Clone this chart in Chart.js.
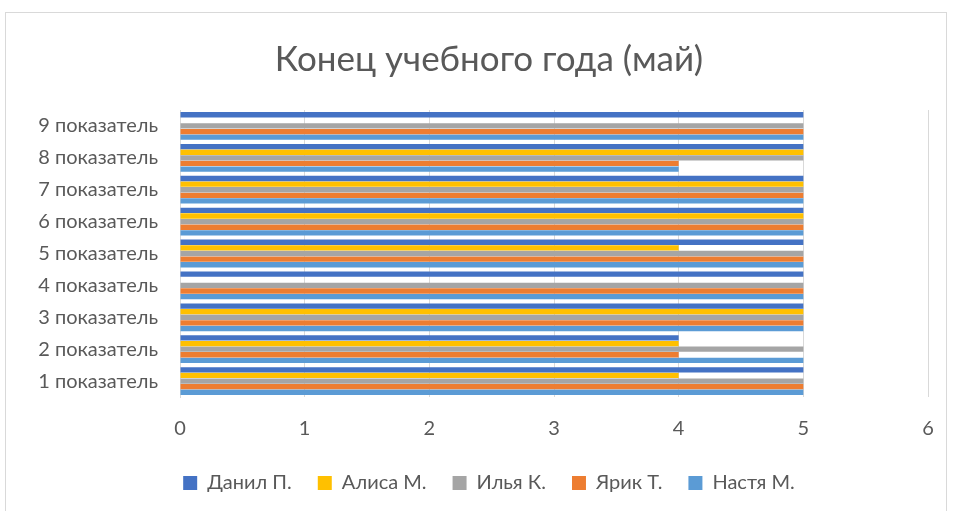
<!DOCTYPE html>
<html>
<head>
<meta charset="utf-8">
<script src="https://cdn.jsdelivr.net/npm/chart.js@4"></script>
<style>
  html, body { margin: 0; padding: 0; background: #fff; }
  #wrap { position: absolute; left: 0; top: 0; width: 953px; height: 511px; }
  #frame { position: absolute; left: 5px; top: 12px; width: 942px; height: 505px; border: 1px solid #d9d9d9; box-sizing: border-box; }
</style>
</head>
<body>
<div id="frame"></div>
<div id="wrap"><canvas id="chart1" width="953" height="511"></canvas></div>
<script>
// categories, bottom to top
var categories = ["1 показатель", "2 показатель", "3 показатель", "4 показатель", "5 показатель",
                  "6 показатель", "7 показатель", "8 показатель", "9 показатель"];

// one array per pupil (null = no bar)
var danil = [5, 4, 5, 5, 5, 5, 5, 5, 5];
var alisa = [4, 4, 5, null, 4, 5, 5, 5, null];
var ilya  = [5, 5, 5, 5, 5, 5, 5, 5, 5];
var yarik = [5, 4, 5, 5, 5, 5, 5, 4, 5];
var nastya = [5, 5, 5, 5, 5, 5, 5, 4, 5];

var seriesNames = ["Данил П.", "Алиса М.", "Илья К.", "Ярик Т.", "Настя М."];
var seriesColors = ["#4472C4", "#FFC000", "#A5A5A5", "#ED7D31", "#5B9BD5"];
var xTicks = [0, 1, 2, 3, 4, 5, 6];

var font = "Lato, 'Open Sans', sans-serif";

function makeSet(i, data) {
	return {
		label: seriesNames[i],
		data: data,
		backgroundColor: seriesColors[i],
		borderWidth: 0,
		barPercentage: 0.95,
		categoryPercentage: 0.88
	};
}

var ctx = document.getElementById("chart1");

var chart = new Chart(ctx, {
	type: "bar",
	data: {
		labels: categories,
		datasets: [
			makeSet(0, danil),
			makeSet(1, alisa),
			makeSet(2, ilya),
			makeSet(3, yarik),
			makeSet(4, nastya)
		]
	},
	options: {
		indexAxis: "y",
		responsive: false,
		animation: false,
		layout: { padding: { left: 35, right: 10, top: 0, bottom: 8 } },
		plugins: {
			title: {
				display: true,
				text: "Конец учебного года (май)",
				color: "#595959",
				font: { family: font, size: 35, weight: "normal" },
				padding: { top: 39, bottom: 29 }
			},
			legend: {
				position: "bottom",
				labels: {
					color: "#595959",
					font: { family: font, size: 20 },
					boxWidth: 14,
					boxHeight: 14,
					padding: 26
				}
			},
			tooltip: { enabled: false }
		},
		scales: {
			x: {
				min: 0,
				max: 6,
				afterBuildTicks: function(scale) {
					scale.ticks = xTicks.map(function(v) { return { value: v }; });
				},
				afterFit: function(scale) {
					scale.height -= 14;
					scale.paddingRight = 25;
				},
				grid: { color: "#d9d9d9", lineWidth: 1, drawTicks: false },
				border: { display: false },
				ticks: { color: "#595959", font: { family: font, size: 20 }, padding: 20 }
			},
			y: {
				reverse: true,
				grid: { display: false },
				border: { display: true, color: "#d9d9d9", width: 1 },
				ticks: { color: "#595959", font: { family: font, size: 20 }, padding: 14 },
				afterFit: function(scale) { scale.width = 145; }
			}
		}
	}
});
</script>
</body>
</html>
